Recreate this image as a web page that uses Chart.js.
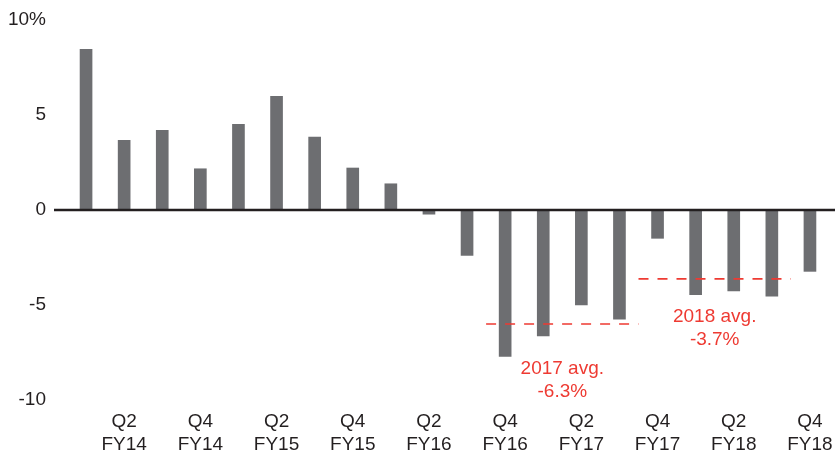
<!DOCTYPE html>
<html>
<head>
<meta charset="utf-8">
<script src="https://cdn.jsdelivr.net/npm/chart.js@4/dist/chart.umd.min.js"></script>
<style>
  html, body { margin: 0; padding: 0; background: #ffffff; }
  #wrap { width: 835px; height: 455px; position: relative; }
</style>
</head>
<body>
<div id="wrap"><canvas id="c" width="835" height="455"></canvas></div>
<script>
// ---- Data ----
const categories = [
  'Q1 FY14','Q2 FY14','Q3 FY14','Q4 FY14',
  'Q1 FY15','Q2 FY15','Q3 FY15','Q4 FY15',
  'Q1 FY16','Q2 FY16','Q3 FY16','Q4 FY16',
  'Q1 FY17','Q2 FY17','Q3 FY17','Q4 FY17',
  'Q1 FY18','Q2 FY18','Q3 FY18','Q4 FY18'
];
const values = [
  8.46, 3.67, 4.19, 2.17,
  4.51, 5.98, 3.84, 2.21,
  1.38, -0.22, -2.39, -7.70,
  -6.63, -5.00, -5.75, -1.49,
  -4.46, -4.26, -4.53, -3.23
];
const yTicks = [-10, -5, 0, 5, 10];
const avgLabels = [['2017 avg.', '-6.3%'], ['2018 avg.', '-3.7%']];
const avgLevels = [-6.0, -3.63];
const avgFrom = [10.5, 14.5];
const avgTo = [14.5, 18.5];

// ---- Styles / positions ----
const BAR = '#6d6e71';
const RED = '#ee3a32';
const INK = '#231f20';
const FONT = '"Liberation Sans", Arial, Helvetica, sans-serif';
const FS = 19;
const annoPos = [{ x: 12.5, y: -8.37 }, { x: 16.5, y: -5.62 }];

// pixel for a fractional category position, via the category scale
function xPix(scale, v) {
  const i = Math.floor(v);
  const a = scale.getPixelForValue(i);
  const b = scale.getPixelForValue(i + 1);
  return a + (v - i) * (b - a);
}

const overlay = {
  id: 'overlay',
  afterDatasetsDraw(chart) {
    const ctx = chart.ctx;
    const y = chart.scales.y;
    const x = chart.scales.x;
    const y0 = y.getPixelForValue(0);
    ctx.save();
    // zero line
    ctx.strokeStyle = INK;
    ctx.lineWidth = 2.6;
    ctx.beginPath();
    ctx.moveTo(54, y0);
    ctx.lineTo(chart.width, y0);
    ctx.stroke();

    // average dashed lines
    ctx.strokeStyle = RED;
    ctx.lineWidth = 1.7;
    ctx.setLineDash([10, 9]);
    avgLevels.forEach((lv, i) => {
      const py = y.getPixelForValue(lv);
      ctx.beginPath();
      ctx.moveTo(xPix(x, avgFrom[i]), py);
      ctx.lineTo(xPix(x, avgTo[i]), py);
      ctx.stroke();
    });
    ctx.setLineDash([]);

    // labels
    ctx.fillStyle = RED;
    ctx.font = FS + 'px ' + FONT;
    ctx.textAlign = 'center';
    ctx.textBaseline = 'middle';
    avgLabels.forEach((lines, i) => {
      const px = xPix(x, annoPos[i].x);
      const py = y.getPixelForValue(annoPos[i].y);
      lines.forEach((t, j) => ctx.fillText(t, px, py + j * 22.5));
    });
    ctx.restore();
  }
};

new Chart(document.getElementById('c'), {
  type: 'bar',
  data: {
    labels: categories,
    datasets: [
      {
        data: values,
        backgroundColor: BAR,
        borderWidth: 0,
        barThickness: 12
      }
    ]
  },
  options: {
    responsive: false,
    animation: false,
    layout: { padding: { left: 0, right: 6, top: 20, bottom: 0 } },
    plugins: { legend: { display: false }, tooltip: { enabled: false } },
    scales: {
      x: {
        type: 'category',
        offset: true,
        grid: { display: false, drawTicks: false },
        border: { display: false },
        afterFit: (s) => { s.height = 55; s.paddingLeft = 0; s.paddingRight = 0; },
        ticks: {
          autoSkip: false,
          maxRotation: 0,
          minRotation: 0,
          padding: 10,
          color: INK,
          font: { family: FONT, size: FS, lineHeight: 1.23 },
          callback: function (v, i) {
            if (i % 2 === 1) {
              const parts = categories[i].split(' ');
              return [parts[0], parts[1]];
            }
            return '';
          }
        }
      },
      y: {
        min: yTicks[0],
        max: yTicks[yTicks.length - 1],
        afterBuildTicks: (s) => { s.ticks = yTicks.map(v => ({ value: v })); },
        afterFit: (s) => { s.width = 67; s.paddingTop = 0; s.paddingBottom = 0; },
        grid: { display: false, drawTicks: false },
        border: { display: false },
        ticks: {
          padding: 21,
          color: INK,
          font: { family: FONT, size: FS },
          callback: (v) => (v === 10 ? '10%' : String(v))
        }
      }
    }
  },
  plugins: [overlay]
});
</script>
</body>
</html>
